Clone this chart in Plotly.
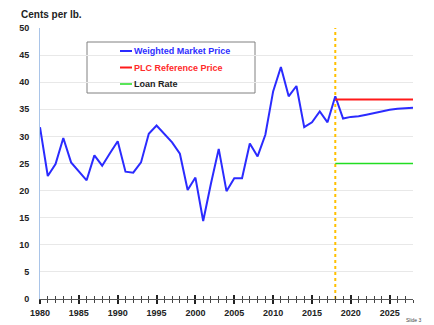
import plotly.graph_objects as go

years = list(range(1980, 2029))
market_price = [31.7, 22.7, 24.9, 29.7, 25.2, 23.5, 21.9, 26.5, 24.6, 26.9,
                29.1, 23.5, 23.3, 25.2, 30.5, 32.0, 30.4, 28.9, 26.8, 20.1,
                22.4, 14.4, 21.3, 27.7, 19.9, 22.3, 22.3, 28.7, 26.3, 30.3,
                38.3, 42.8, 37.4, 39.3, 31.7, 32.6, 34.6, 32.6, 37.4, 33.3,
                33.6, 33.7, 34.0, 34.3, 34.7, 34.9, 35.1, 35.2, 35.3]
ref_years = [2018, 2028]
plc_reference = [36.8, 36.8]
loan_rate = [25.0, 25.0]
marker_year = [2018, 2018]
marker_span = [0, 51]
series_names = ["Weighted Market Price", "PLC Reference Price", "Loan Rate"]
series_colors = ["#2B2BFF", "#FF1A1A", "#22DD22"]
label_colors = ["#2E2EFF", "#FF2A2A", "#222222"]

FONT = "Liberation Sans"
L, R, T, B = 40, 21, 28, 26
PW, PH = 434 - L - R, 325 - T - B


def px(x):
    return (x - L) / PW


def py(y):
    return 1 - (y - T) / PH


fig = go.Figure()
fig.add_trace(go.Scatter(x=marker_year, y=marker_span, mode="lines",
                         line=dict(color="#FFC000", width=2, dash="dot"),
                         showlegend=False, cliponaxis=False, hoverinfo="skip"))
fig.add_trace(go.Scatter(x=years, y=market_price, mode="lines", name=series_names[0],
                         line=dict(color=series_colors[0], width=2), showlegend=False))
fig.add_trace(go.Scatter(x=ref_years, y=plc_reference, mode="lines", name=series_names[1],
                         line=dict(color=series_colors[1], width=2), showlegend=False))
fig.add_trace(go.Scatter(x=ref_years, y=loan_rate, mode="lines", name=series_names[2],
                         line=dict(color=series_colors[2], width=1.5), showlegend=False))
# overlay axis to make ticks cross the axis line
fig.add_trace(go.Scatter(x=[1980], y=[0], xaxis="x2", mode="markers",
                         marker=dict(opacity=0), showlegend=False, hoverinfo="skip"))

shapes = [dict(type="rect", xref="paper", yref="paper",
               x0=px(87), x1=px(255), y0=py(93), y1=py(42),
               line=dict(color="#808080", width=1), fillcolor="white", layer="below")]
annotations = [
    dict(text="<b>Cents per lb.</b>", xref="paper", yref="paper",
         x=px(19), y=py(7), xanchor="left", yanchor="top",
         showarrow=False, font=dict(family=FONT, size=10, color="#222222")),
    dict(text="Slide 3", xref="paper", yref="paper",
         x=px(424), y=py(320), xanchor="right", yanchor="middle",
         showarrow=False, font=dict(family=FONT, size=5, color="#444444")),
]
row_y = [51, 67.5, 84]
for name, lc, tc, yy, w in zip(series_names, series_colors, label_colors, row_y, [2, 2, 1.5]):
    shapes.append(dict(type="line", xref="paper", yref="paper",
                       x0=px(120), x1=px(132), y0=py(yy), y1=py(yy),
                       line=dict(color=lc, width=w)))
    annotations.append(dict(text="<b>" + name + "</b>", xref="paper", yref="paper",
                            x=px(132), y=py(yy), xanchor="left", yanchor="middle",
                            showarrow=False,
                            font=dict(family=FONT, size=9, color=tc)))

ticks5 = [1980, 1985, 1990, 1995, 2000, 2005, 2010, 2015, 2020, 2025]

fig.update_layout(
    width=434, height=325,
    margin=dict(l=L, r=R, t=T, b=B, autoexpand=False),
    paper_bgcolor="white", plot_bgcolor="white",
    font=dict(family=FONT, size=9, color="#222222"),
    xaxis=dict(range=[1980, 2028], tickmode="array", tickvals=ticks5,
               ticks="outside", ticklen=4, tickwidth=2, tickcolor="#222222",
               showline=True, linecolor="#555555", linewidth=1, automargin=False,
               showgrid=False, zeroline=False, ticklabelstandoff=1,
               tickfont=dict(family=FONT, size=9, color="#222222", weight="bold"),
               minor=dict(dtick=1, tick0=1980, ticks="outside", ticklen=3,
                          tickwidth=1, tickcolor="#444444", showgrid=False)),
    xaxis2=dict(range=[1980, 2028], overlaying="x", anchor="y", side="bottom",
                tickmode="array", tickvals=ticks5, automargin=False,
                ticks="inside", ticklen=4, tickwidth=2, tickcolor="#222222",
                showticklabels=False, showgrid=False, zeroline=False, showline=False,
                minor=dict(dtick=1, tick0=1980, ticks="inside", ticklen=3,
                           tickwidth=1, tickcolor="#444444", showgrid=False)),
    yaxis=dict(range=[0, 50], dtick=5, showgrid=True, gridcolor="#E8E8E8",
               gridwidth=1, zeroline=False, showline=True, linecolor="#A9C4E8",
               linewidth=1, ticks="", ticklabelstandoff=8, automargin=False,
               tickfont=dict(family=FONT, size=9, color="#222222", weight="bold")),
    shapes=shapes,
    annotations=annotations,
    showlegend=False,
)

fig.write_html("out.html")
